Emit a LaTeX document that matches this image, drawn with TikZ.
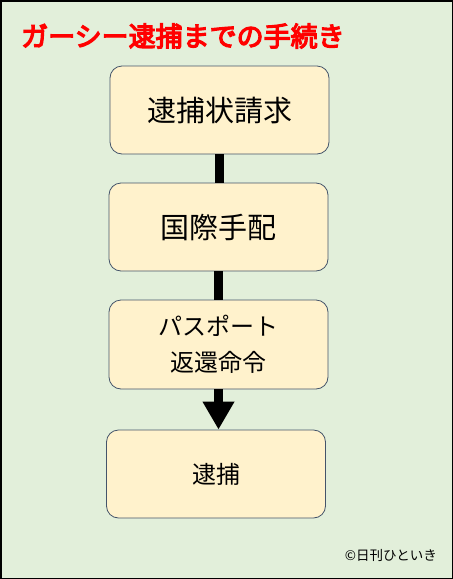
\documentclass[tikz,border=0pt]{standalone}
\usepackage{fontspec}
\newfontfamily\cjk{Noto Sans CJK JP}
\newfontfamily\cjkb{Noto Sans CJK JP}[FakeBold=4.5]
\usetikzlibrary{arrows.meta}
\definecolor{bg}{HTML}{E2EFDA}
\definecolor{boxfill}{HTML}{FFF2CC}
\definecolor{boxline}{HTML}{44546A}
\begin{document}
\begin{tikzpicture}[x=1pt,y=-1pt,
  stepbox/.style={draw=boxline, line width=0.8pt, fill=boxfill, rounded corners=12pt,
    minimum width=219pt, minimum height=88pt, inner sep=0pt, align=center, font=\cjk},
  link/.style={line width=9pt, black}]
\path[fill=bg, draw=black, line width=1.5pt] (0.75,0.75) rectangle (452.25,578.25);
\useasboundingbox (0,0) rectangle (453,579);
\node[anchor=west, text=red, font=\cjkb\fontsize{27}{29}\selectfont, inner sep=0pt] (title) at (21,36) {ガーシー逮捕までの手続き};
\node[stepbox, font=\cjk\fontsize{29}{32}\selectfont] (b1) at (219.5,110) {逮捕状請求};
\node[stepbox, font=\cjk\fontsize{29}{32}\selectfont] (b2) at (218.5,227) {国際手配};
\node[stepbox, minimum height=89pt, font=\cjk\fontsize{24}{36}\selectfont] (b3) at (218.5,344.5) {パスポート\\返還命令};
\node[stepbox, font=\cjk\fontsize{24}{28}\selectfont] (b4) at (216,474) {逮捕};
\draw[link] (b1.south) -- (b1.south |- b2.north);
\draw[link] (b2.south) -- (b3.north);
\draw[link, -{Triangle[width=30pt,length=28pt]}] (b3.south) -- (b3.south |- b4.north);
\node[anchor=east, font=\cjk\fontsize{13.5}{15}\selectfont, inner sep=0pt] (copy) at (437,555) {©日刊ひといき};
\end{tikzpicture}
\end{document}
